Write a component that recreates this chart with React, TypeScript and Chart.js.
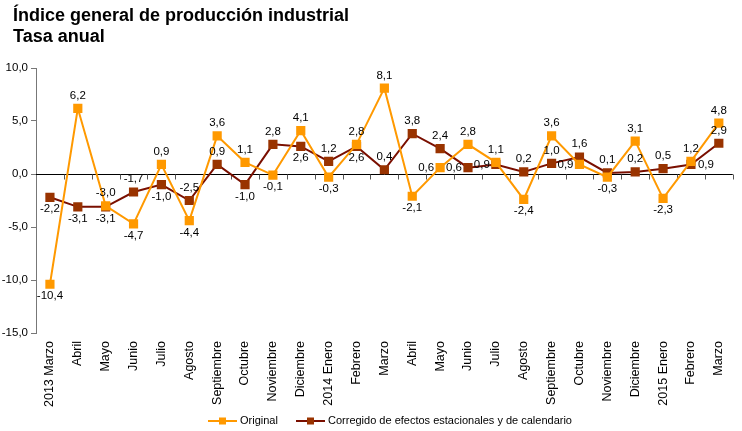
import React, { useEffect, useRef } from 'react';
import { Chart, registerables } from 'chart.js';

Chart.register(...registerables);

const titleLines = ['Índice general de producción industrial', 'Tasa anual'];

const categories = [
  '2013 Marzo', 'Abril', 'Mayo', 'Junio', 'Julio', 'Agosto', 'Septiembre', 'Octubre',
  'Noviembre', 'Diciembre', '2014 Enero', 'Febrero', 'Marzo', 'Abril', 'Mayo', 'Junio',
  'Julio', 'Agosto', 'Septiembre', 'Octubre', 'Noviembre', 'Diciembre', '2015 Enero',
  'Febrero', 'Marzo',
];

const originalValues = [
  -10.4, 6.2, -3.0, -4.7, 0.9, -4.4, 3.6, 1.1, -0.1, 4.1, -0.3, 2.8, 8.1,
  -2.1, 0.6, 2.8, 1.1, -2.4, 3.6, 0.9, -0.3, 3.1, -2.3, 1.2, 4.8,
];

const corregidoValues = [
  -2.2, -3.1, -3.1, -1.7, -1.0, -2.5, 0.9, -1.0, 2.8, 2.6, 1.2, 2.6, 0.4,
  3.8, 2.4, 0.6, 0.9, 0.2, 1.0, 1.6, 0.1, 0.2, 0.5, 0.9, 2.9,
];

const seriesNames = ['Original', 'Corregido de efectos estacionales y de calendario'];

const yTicks = [10, 5, 0, -5, -10, -15];

// label placement: a = above, b = below, l = left, r = right
const originalLabelPos = [
  'b', 'a', 'a', 'b', 'a', 'b', 'a', 'a', 'b', 'a', 'b', 'a', 'a',
  'b', 'l', 'a', 'a', 'b', 'a', 'l', 'b', 'a', 'b', 'a', 'a',
];
const corregidoLabelPos = [
  'b', 'b', 'b', 'a', 'b', 'a', 'a', 'b', 'a', 'b', 'a', 'b', 'a',
  'a', 'a', 'l', 'l', 'a', 'a', 'a', 'a', 'a', 'a', 'r', 'a',
];

const FONT = '"Liberation Sans", Arial, sans-serif';
const ORANGE = '#FF9900';
const BROWN_LINE = '#7A0F00';
const BROWN_MARK = '#993300';

const fmt = (v: number) => v.toFixed(1).replace('.', ',');

const customPlugin = {
  id: 'custom',
  beforeDatasetsDraw(chart: any) {
    const ctx = chart.ctx;
    const ys = chart.scales.y;
    const y0 = Math.round(ys.getPixelForValue(0)) + 0.5;
    const area = chart.chartArea;
    ctx.save();
    ctx.strokeStyle = '#000';
    ctx.lineWidth = 1;
    ctx.beginPath();
    ctx.moveTo(area.left, y0);
    ctx.lineTo(area.right, y0);
    ctx.stroke();
    ctx.strokeStyle = '#555';
    ctx.beginPath();
    const n = categories.length;
    const w = (area.right - area.left) / n;
    for (let i = 1; i <= n; i++) {
      const x = Math.round(area.left + i * w) + 0.5;
      ctx.moveTo(x, y0);
      ctx.lineTo(x, y0 + 5);
    }
    ctx.stroke();
    ctx.restore();
  },
  afterDatasetsDraw(chart: any) {
    const ctx = chart.ctx;
    ctx.save();
    ctx.font = `11.5px ${FONT}`;
    ctx.fillStyle = '#000';
    const sets = [
      { vals: originalValues, pos: originalLabelPos, idx: 0 },
      { vals: corregidoValues, pos: corregidoLabelPos, idx: 1 },
    ];
    sets.forEach((s) => {
      const meta = chart.getDatasetMeta(s.idx);
      meta.data.forEach((el: any, i: number) => {
        const p = s.pos[i];
        const t = fmt(s.vals[i]);
        let x = el.x;
        let y = el.y;
        if (p === 'a') {
          ctx.textAlign = 'center';
          ctx.textBaseline = 'bottom';
          y -= 7;
        } else if (p === 'b') {
          ctx.textAlign = 'center';
          ctx.textBaseline = 'top';
          y += 6;
        } else if (p === 'l') {
          ctx.textAlign = 'right';
          ctx.textBaseline = 'middle';
          x -= 6;
        } else {
          ctx.textAlign = 'left';
          ctx.textBaseline = 'middle';
          x += 7;
        }
        ctx.fillText(t, x, y);
      });
    });
    ctx.restore();
  },
  afterDraw(chart: any) {
    const ctx = chart.ctx;
    ctx.save();
    // title
    ctx.fillStyle = '#000';
    ctx.font = `bold 18px ${FONT}`;
    ctx.textAlign = 'left';
    ctx.textBaseline = 'alphabetic';
    ctx.fillText(titleLines[0], 13, 20.5);
    ctx.fillText(titleLines[1], 13, 41.5);
    // legend
    const items = [
      { name: seriesNames[0], line: ORANGE, mark: ORANGE, x0: 208 },
      { name: seriesNames[1], line: BROWN_LINE, mark: BROWN_MARK, x0: 296 },
    ];
    const ly = 421;
    items.forEach((it) => {
      ctx.strokeStyle = it.line;
      ctx.lineWidth = 2;
      ctx.beginPath();
      ctx.moveTo(it.x0, ly);
      ctx.lineTo(it.x0 + 29, ly);
      ctx.stroke();
      ctx.fillStyle = it.mark;
      ctx.fillRect(it.x0 + 14.5 - 3.5, ly - 3.5, 7, 7);
      ctx.fillStyle = '#000';
      ctx.font = `11px ${FONT}`;
      ctx.textBaseline = 'middle';
      ctx.fillText(it.name, it.x0 + 32, ly);
    });
    ctx.restore();
  },
};

export default function App() {
  const ref = useRef<HTMLCanvasElement | null>(null);
  useEffect(() => {
    if (!ref.current) return;
    const chart = new Chart(ref.current, {
      type: 'line',
      data: {
        labels: categories,
        datasets: [
          {
            label: seriesNames[0],
            data: originalValues,
            borderColor: ORANGE,
            backgroundColor: ORANGE,
            borderWidth: 2,
            pointStyle: 'rect',
            pointRadius: 6.5,
            pointBackgroundColor: ORANGE,
            pointBorderColor: ORANGE,
            pointBorderWidth: 0,
            tension: 0,
          },
          {
            label: seriesNames[1],
            data: corregidoValues,
            borderColor: BROWN_LINE,
            backgroundColor: BROWN_MARK,
            borderWidth: 2,
            pointStyle: 'rect',
            pointRadius: 6.5,
            pointBackgroundColor: BROWN_MARK,
            pointBorderColor: BROWN_MARK,
            pointBorderWidth: 0,
            tension: 0,
          },
        ],
      },
      options: {
        animation: false,
        responsive: false,
        maintainAspectRatio: false,
        layout: { padding: { top: 68, right: 9, left: 0, bottom: 0 } },
        plugins: {
          legend: { display: false },
          title: { display: false },
          tooltip: { enabled: false },
        },
        scales: {
          x: {
            type: 'category',
            offset: true,
            grid: { display: false, drawTicks: false },
            border: { display: false },
            ticks: {
              autoSkip: false,
              minRotation: 90,
              maxRotation: 90,
              padding: 8,
              color: '#000',
              font: { family: FONT, size: 12.5 },
            },
            afterFit: (scale: any) => {
              scale.height = 98;
            },
          },
          y: {
            min: -15,
            max: 10,
            afterBuildTicks: (scale: any) => {
              scale.ticks = yTicks.map((v) => ({ value: v }));
            },
            grid: { drawOnChartArea: false, drawTicks: true, tickLength: 5, color: '#777' },
            border: { display: true, color: '#777', width: 1 },
            ticks: {
              padding: 3,
              color: '#000',
              font: { family: FONT, size: 11.5 },
              callback: (v: any) => fmt(Number(v)),
            },
            afterFit: (scale: any) => {
              scale.width = 36;
            },
          },
        },
      },
      plugins: [customPlugin],
    });
    return () => chart.destroy();
  }, []);
  return (
    <div style={{ position: 'fixed', left: 0, top: 0, width: 742, height: 431, background: '#fff' }}>
      <canvas ref={ref} width={742} height={431} style={{ width: 742, height: 431 }} />
    </div>
  );
}
